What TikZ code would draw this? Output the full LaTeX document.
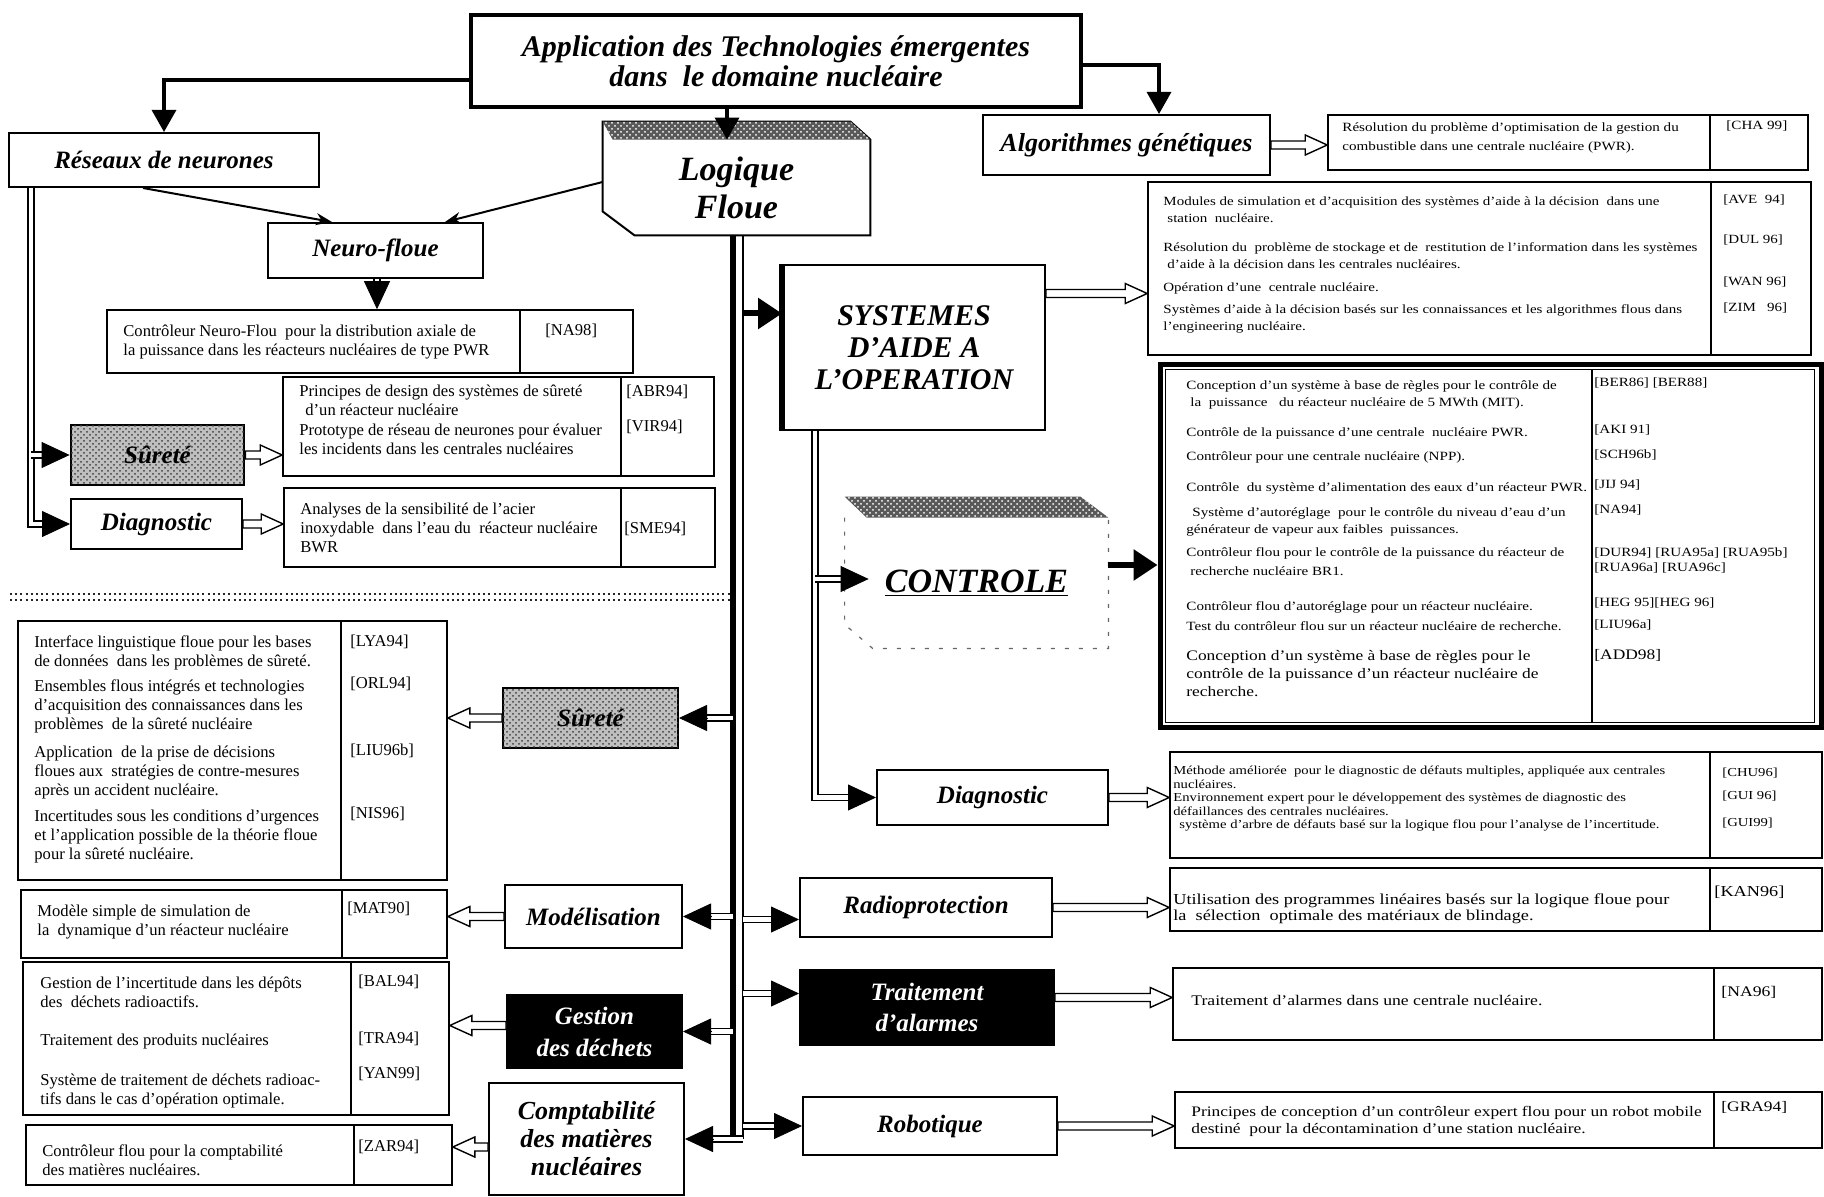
\documentclass[tikz,border=0pt]{standalone}
\usepackage{fontspec}
\setmainfont{Liberation Serif}
\newfontfamily\widefont[FakeStretch=1.2,Ligatures=TeX]{Liberation Serif}
\usetikzlibrary{arrows.meta,calc,patterns}
\tikzset{
  lab/.style={font=\fontsize{12.5}{15}\selectfont\bfseries\itshape, align=center},
  bx/.style={draw, line width=1pt, inner sep=0pt, fill=white},
  tb/.style={draw, line width=0.8pt, inner sep=0pt},
  tl/.style={anchor=north west, inner sep=0pt, align=left, font=\fontsize{8.3}{9.5}\selectfont},
  wf/.style 2 args={anchor=north west, inner sep=0pt, align=left, font=\widefont\fontsize{#1}{#2}\selectfont},
  speckle/.style={fill=gray!50, postaction={pattern=crosshatch dots, pattern color=black!75}},
  blk/.style={fill=black, text=white},
  bigar/.style={line width=1.6pt, -{Triangle[length=11pt,width=12pt]}},
  thinar/.style={line width=1pt, -{Stealth[length=8pt,width=6pt]}},
  dbl/.style={double, double distance=2.4pt, line width=0.6pt},
  tipst/.style={line width=0.4pt, -{Triangle[length=14pt,width=13pt]}},
  heavy/.style={line width=3pt, -{Triangle[length=12pt,width=15pt]}},
}
\newcommand\bx[7]{\node[#6, minimum width={(#4-#2)*0.5pt}, minimum height={(#5-#3)*0.5pt}] (#1) at ({(#2+#4)/2},{(#3+#5)/2}) {#7};}
\newcommand\tip[2]{\draw[tipst] ($(#2)!14pt!(#1)$) -- (#2);}
\newcommand\vdiv[2]{\draw[line width=0.8pt] (#1.north -| #2,0) -- (#1.south -| #2,0);}
\newcommand\hol[2]{%
\draw[line width=0.7pt, fill=white, line join=miter]
 let \p1=(#1), \p2=(#2), \n1={ifthenelse(\x2>\x1,1,-1)} in
 (\x1,\y1+2pt) -- ({\x2-\n1*11pt},\y1+2pt) -- ({\x2-\n1*11pt},\y1+5pt) -- (\x2,\y1)
 -- ({\x2-\n1*11pt},\y1-5pt) -- ({\x2-\n1*11pt},\y1-2pt) -- (\x1,\y1-2pt) -- cycle;}
\begin{document}
\begin{tikzpicture}[x=0.5pt,y=-0.5pt]
\useasboundingbox (0,0) rectangle (1824,1197);
% ---------- boxes
\bx{app}{471}{15}{1081}{107}{bx,lab,line width=1.6pt,font=\fontsize{15}{15}\selectfont\bfseries\itshape}{Application des Technologies émergentes\\dans~ le domaine nucléaire}
\bx{rn}{9}{133}{319}{187}{bx,lab}{Réseaux de neurones}
\bx{lf}{603}{140}{870}{235}{lab,inner sep=0pt,font=\fontsize{17}{19}\selectfont\bfseries\itshape}{Logique\\Floue}
\bx{nf}{268}{223}{483}{278}{bx,lab}{Neuro-floue}
\bx{ag}{983}{115}{1270}{175}{bx,lab,font=\fontsize{13}{15}\selectfont\bfseries\itshape}{Algorithmes génétiques}
\bx{cha}{1328}{115}{1808}{170}{tb}{}
\bx{sys}{783}{265}{1045}{430}{bx,lab,font=\fontsize{15}{16}\selectfont\bfseries\itshape}{SYSTEMES\\D'AIDE A\\L'OPERATION}
\bx{systbl}{1148}{182}{1811}{355}{tb}{}
\bx{na98}{107}{310}{633}{373}{tb}{}
\bx{sur1}{71}{425}{244}{485}{bx,lab,speckle,line width=1.4pt}{Sûreté}
\bx{sur1t}{283}{377}{714}{476}{tb}{}
\bx{dia1}{71}{499}{242}{549}{bx,lab}{Diagnostic}
\bx{dia1t}{284}{488}{715}{567}{tb}{}
\bx{ctl}{845}{518}{1108}{648}{lab,inner sep=0pt,font=\fontsize{17}{19}\selectfont\bfseries\itshape}{\underline{CONTROLE}}
\bx{ctlt}{1160}{365}{1821}{727}{tb,line width=2.5pt}{}
\bx{dia2}{877}{770}{1108}{825}{bx,lab}{Diagnostic}
\bx{dia2t}{1170}{752}{1822}{858}{tb}{}
\bx{sur2}{503}{688}{678}{748}{bx,lab,speckle}{Sûreté}
\bx{sur2t}{18}{621}{447}{880}{tb}{}
\bx{mod}{505}{885}{682}{948}{bx,lab}{Modélisation}
\bx{modt}{21}{890}{447}{958}{tb}{}
\bx{rad}{800}{878}{1052}{937}{bx,lab}{Radioprotection}
\bx{radt}{1170}{868}{1822}{931}{tb}{}
\bx{ges}{507}{995}{682}{1068}{bx,lab,blk,font=\fontsize{12.5}{16}\selectfont\bfseries\itshape}{Gestion\\des déchets}
\bx{gest}{23}{962}{449}{1115}{tb}{}
\bx{tra}{800}{970}{1054}{1045}{bx,lab,blk,font=\fontsize{12.5}{15.5}\selectfont\bfseries\itshape}{Traitement\\d'alarmes}
\bx{trat}{1173}{968}{1822}{1040}{tb}{}
\bx{cpt}{489}{1083}{684}{1195}{bx,lab,font=\fontsize{13}{14}\selectfont\bfseries\itshape}{Comptabilité\\des matières\\nucléaires}
\bx{cptt}{26}{1125}{452}{1185}{tb}{}
\bx{rob}{803}{1097}{1057}{1155}{bx,lab}{Robotique}
\bx{robt}{1175}{1092}{1822}{1148}{tb}{}
% ---------- special outlines
\draw[line width=1pt] ([yshift=9pt]lf.north west) -- ([xshift=-10pt,yshift=9pt]lf.north east) -- (lf.north east) -- (lf.south east) -- ([xshift=16pt]lf.south west) -- ([yshift=12pt]lf.south west) -- cycle;
\fill[black!65, postaction={pattern=crosshatch dots, pattern color=white}] ([yshift=9pt]lf.north west) -- ([xshift=-10pt,yshift=9pt]lf.north east) -- (lf.north east) -- ([xshift=5pt]lf.north west) -- cycle;
\fill[black!65, postaction={pattern=crosshatch dots, pattern color=white}] ([yshift=10.5pt]ctl.north west) -- ([xshift=-14pt,yshift=10.5pt]ctl.north east) -- (ctl.north east) -- ([xshift=11pt]ctl.north west) -- cycle;
\draw[black!60, line width=0.6pt, dash pattern=on 2pt off 5pt] (ctl.north west) -- ([yshift=12pt]ctl.south west) -- ([xshift=14pt]ctl.south west) -- (ctl.south east) -- (ctl.north east);
\draw[line width=3pt] (sys.north west) -- (sys.south west);
\draw[line width=0.6pt] ($(ctlt.north west)+(8,7)$) rectangle ($(ctlt.south east)+(-9,-7)$);
% ---------- dividers
\vdiv{cha}{1710} \vdiv{systbl}{1711} \vdiv{na98}{520} \vdiv{sur1t}{621} \vdiv{dia1t}{621}
\vdiv{dia2t}{1710} \vdiv{sur2t}{341} \vdiv{modt}{342} \vdiv{radt}{1710} \vdiv{gest}{351}
\vdiv{trat}{1714} \vdiv{cptt}{354} \vdiv{robt}{1714}
\draw[line width=0.8pt] ($(ctlt.north -| 1592,0)+(0,7)$) -- ($(ctlt.south -| 1592,0)+(0,-7)$);
% ---------- separator
\coordinate (sepA) at (10,594); \coordinate (sepB) at (730,594);
\coordinate (sepC) at (10,600); \coordinate (sepD) at (730,600);
\draw[line width=1.3pt, dash pattern=on 1pt off 1.6pt, black!85] (sepA) -- (sepB);
\draw[line width=1.3pt, dash pattern=on 1pt off 1.6pt, black!85] (sepC) -- (sepD);
% ---------- table texts, left
\node[tl] (na98a) at (123,325) {Contrôleur Neuro-Flou~ pour la distribution axiale de\\la puissance dans les réacteurs nucléaires de type PWR};
\node[tl] (na98r) at (545,324) {[NA98]};
\node[tl] (s1a) at (299,385) {Principes de design des systèmes de sûreté\\\hspace{3pt}d'un réacteur nucléaire};
\node[tl] (s1b) at (299,424) {Prototype de réseau de neurones pour évaluer\\les incidents dans les centrales nucléaires};
\node[tl] (s1ra) at (626,385) {[ABR94]};
\node[tl] (s1rb) at (626,420) {[VIR94]};
\node[tl] (d1a) at (300,503) {Analyses de la sensibilité de l'acier\\inoxydable~ dans l'eau du~ réacteur nucléaire\\BWR};
\node[tl] (d1r) at (624,522) {[SME94]};
\node[tl] (s2a) at (34,635) {Interface linguistique floue pour les bases\\de données~ dans les problèmes de sûreté.};
\node[tl] (s2b) at (34,679) {Ensembles flous intégrés et technologies\\d'acquisition des connaissances dans les\\problèmes~ de la sûreté nucléaire};
\node[tl] (s2c) at (34,746) {Application~ de la prise de décisions\\floues aux~ stratégies de contre-mesures\\après un accident nucléaire.};
\node[tl] (s2d) at (34,810) {Incertitudes sous les conditions d'urgences\\et l'application possible de la théorie floue\\pour la sûreté nucléaire.};
\node[tl] (s2ra) at (350,635) {[LYA94]};
\node[tl] (s2rb) at (350,677) {[ORL94]};
\node[tl] (s2rc) at (350,744) {[LIU96b]};
\node[tl] (s2rd) at (350,807) {[NIS96]};
\node[tl] (ma) at (37,905) {Modèle simple de simulation de\\la~ dynamique d'un réacteur nucléaire};
\node[tl] (mr) at (347,902) {[MAT90]};
\node[tl] (ga) at (40,977) {Gestion de l'incertitude dans les dépôts\\des~ déchets radioactifs.};
\node[tl] (gb) at (40,1034) {Traitement des produits nucléaires};
\node[tl] (gc) at (40,1074) {Système de traitement de déchets radioac-\\tifs dans le cas d'opération optimale.};
\node[tl] (gra) at (358,975) {[BAL94]};
\node[tl] (grb) at (358,1032) {[TRA94]};
\node[tl] (grc) at (358,1067) {[YAN99]};
\node[tl] (ca) at (42,1144) {Contrôleur flou pour la comptabilité\\des matières nucléaires.};
\node[tl] (cr) at (358,1140) {[ZAR94]};
% ---------- table texts, right
\node[wf={6.3}{9.5}] (chaa) at (1342,122) {Résolution du problème d'optimisation de la gestion du\\combustible dans une centrale nucléaire (PWR).};
\node[wf={6.3}{9.5}] (char) at (1726,120) {[CHA 99]};
\node[wf={6.25}{8.5}] (sta) at (1163,196) {Modules de simulation et d'acquisition des systèmes d'aide à la décision~ dans une\\\hspace{2pt}station~ nucléaire.};
\node[wf={6.25}{8.5}] (stb) at (1163,242) {Résolution du~ problème de stockage et de~ restitution de l'information dans les systèmes\\\hspace{2pt}d'aide à la décision dans les centrales nucléaires.};
\node[wf={6.25}{8.5}] (stc) at (1163,282) {Opération d'une~ centrale nucléaire.};
\node[wf={6.25}{8.5}] (std) at (1163,304) {Systèmes d'aide à la décision basés sur les connaissances et les algorithmes flous dans\\l'engineering nucléaire.};
\node[wf={6.25}{8.5}] (stra) at (1723,194) {[AVE~ 94]};
\node[wf={6.25}{8.5}] (strb) at (1723,234) {[DUL 96]};
\node[wf={6.25}{8.5}] (strc) at (1723,276) {[WAN 96]};
\node[wf={6.25}{8.5}] (strd) at (1723,302) {[ZIM~~ 96]};
\node[wf={6.3}{8.5}] (cta) at (1186,380) {Conception d'un système à base de règles pour le contrôle de\\\hspace{2pt}la~ puissance~~ du réacteur nucléaire de 5 MWth (MIT).};
\node[wf={6.3}{8.5}] (ctb) at (1186,427) {Contrôle de la puissance d'une centrale~ nucléaire PWR.};
\node[wf={6.3}{8.5}] (ctc) at (1186,451) {Contrôleur pour une centrale nucléaire (NPP).};
\node[wf={6.3}{8.5}] (ctd) at (1186,482) {Contrôle~ du système d'alimentation des eaux d'un réacteur PWR.};
\node[wf={6.3}{8.5}] (cte) at (1186,507) {\hspace{3pt}Système d'autoréglage~ pour le contrôle du niveau d'eau d'un\\générateur de vapeur aux faibles~ puissances.};
\node[wf={6.3}{9.5}] (ctf) at (1186,547) {Contrôleur flou pour le contrôle de la puissance du réacteur de\\\hspace{2pt}recherche nucléaire BR1.};
\node[wf={6.3}{8.5}] (ctg) at (1186,601) {Contrôleur flou d'autoréglage pour un réacteur nucléaire.};
\node[wf={6.3}{8.5}] (cth) at (1186,621) {Test du contrôleur flou sur un réacteur nucléaire de recherche.};
\node[wf={7.25}{9}] (cti) at (1186,650) {Conception d'un système à base de règles pour le\\contrôle de la puissance d'un réacteur nucléaire de\\recherche.};
\node[wf={6.3}{8.5}] (ctra) at (1594,377) {[BER86] [BER88]};
\node[wf={6.3}{8.5}] (ctrb) at (1594,424) {[AKI 91]};
\node[wf={6.3}{8.5}] (ctrc) at (1594,449) {[SCH96b]};
\node[wf={6.3}{8.5}] (ctrd) at (1594,479) {[JIJ 94]};
\node[wf={6.3}{8.5}] (ctre) at (1594,504) {[NA94]};
\node[wf={6.3}{7.5}] (ctrf) at (1594,547) {[DUR94] [RUA95a] [RUA95b]\\{}[RUA96a] [RUA96c]};
\node[wf={6.3}{8.5}] (ctrg) at (1594,597) {[HEG 95][HEG 96]};
\node[wf={6.3}{8.5}] (ctrh) at (1594,619) {[LIU96a]};
\node[wf={7.25}{9}] (ctri) at (1594,649) {[ADD98]};
\node[wf={6.1}{6.6}] (dga) at (1173,766) {Méthode améliorée~ pour le diagnostic de défauts multiples, appliquée aux centrales\\nucléaires.};
\node[wf={6.1}{6.6}] (dgb) at (1173,793) {Environnement expert pour le développement des systèmes de diagnostic des\\défaillances des centrales nucléaires.};
\node[wf={6.1}{6.6}] (dgc) at (1173,820) {\hspace{3pt}système d'arbre de défauts basé sur la logique flou pour l'analyse de l'incertitude.};
\node[wf={6.1}{6.6}] (dgra) at (1722,768) {[CHU96]};
\node[wf={6.1}{6.6}] (dgrb) at (1722,791) {[GUI 96]};
\node[wf={6.1}{6.6}] (dgrc) at (1722,818) {[GUI99]};
\node[wf={7.6}{8}] (rda) at (1173,893) {Utilisation des programmes linéaires basés sur la logique floue pour\\la~ sélection~ optimale des matériaux de blindage.};
\node[wf={7.6}{8}] (rdr) at (1714,886) {[KAN96]};
\node[wf={7.35}{9}] (tta) at (1191,995) {Traitement d'alarmes dans une centrale nucléaire.};
\node[wf={7.35}{9}] (ttr) at (1721,986) {[NA96]};
\node[wf={7.25}{8.5}] (rba) at (1191,1106) {Principes de conception d'un contrôleur expert flou pour un robot mobile\\destiné~ pour la décontamination d'une station nucléaire.};
\node[wf={7.25}{8.5}] (rbr) at (1721,1101) {[GRA94]};
% ---------- connectors: top level
\draw[bigar] (app.west |- 0,80) -| (rn.north);
\draw[bigar] (app.south -| 727,0) -- (lf.north -| 727,0);
\draw[bigar] (app.east |- 0,65) -| (ag.north -| 1159,0);
\draw[thinar] (rn.south -| 143,0) -- (nf.north -| 332,0);
\draw[thinar] (lf.west |- 0,182) -- (nf.north -| 445,0);
\draw[dbl, shorten >=14pt] (nf.south -| 377,0) -- (na98.north -| 377,0);
\tip{nf.south -| 377,0}{na98.north -| 377,0}
% left trunk
\draw[dbl, shorten >=14pt] (rn.south -| 31,0) |- (dia1.west);
\tip{dia1.west -| 31,0}{dia1.west}
\draw[dbl, shorten >=14pt] (sur1.west -| 31,0) -- (sur1.west);
\tip{sur1.west -| 31,0}{sur1.west}
% central trunk
\draw[line width=3pt] (lf.south -| 733,0) -- (cpt.east -| 733,0);
\draw[line width=0.9pt] (lf.south -| 743,0) -- (cpt.east -| 743,0);
\coordinate (sysin) at ([yshift=17pt]sys.west);
\draw[heavy] (sysin -| 743,0) -- (sysin);
\draw[dbl, shorten >=14pt] (sur2.east -| 733,0) -- (sur2.east); \tip{sur2.east -| 733,0}{sur2.east}
\draw[dbl, shorten >=14pt] (mod.east -| 733,0) -- (mod.east); \tip{mod.east -| 733,0}{mod.east}
\draw[dbl, shorten >=14pt] (ges.east -| 733,0) -- (ges.east); \tip{ges.east -| 733,0}{ges.east}
\draw[dbl, shorten >=14pt] (cpt.east -| 743,0) -- (cpt.east); \tip{cpt.east -| 743,0}{cpt.east}
\coordinate (radin) at ([yshift=-6pt]rad.west);
\draw[dbl, shorten >=14pt] (radin -| 743,0) -- (radin); \tip{radin -| 743,0}{radin}
\coordinate (train) at ([yshift=7pt]tra.west);
\draw[dbl, shorten >=14pt] (train -| 743,0) -- (train); \tip{train -| 743,0}{train}
\draw[dbl, shorten >=14pt] (rob.west -| 743,0) -- (rob.west); \tip{rob.west -| 743,0}{rob.west}
% systemes branch
\draw[dbl, shorten >=14pt] (sys.south -| 815,0) |- (dia2.west); \tip{dia2.west -| 815,0}{dia2.west}
\coordinate (ctlin) at ([xshift=12pt,yshift=2pt]ctl.west);
\draw[dbl, shorten >=14pt] (ctlin -| 815,0) -- (ctlin); \tip{ctlin -| 815,0}{ctlin}
\coordinate (ctlout) at ([yshift=9pt]ctl.east);
\draw[heavy] (ctlout) -- (ctlout -| ctlt.west);
% hollow arrows
\hol{ag.east}{ag.east -| cha.west}
\coordinate (sysout) at ([yshift=27pt]sys.east);
\hol{sysout}{sysout -| systbl.west}
\hol{sur1.east}{sur1.east -| sur1t.west}
\hol{dia1.east}{dia1.east -| dia1t.west}
\hol{sur2.west}{sur2.west -| sur2t.east}
\hol{mod.west}{mod.west -| modt.east}
\coordinate (gesout) at ([yshift=3pt]ges.west);
\hol{gesout}{gesout -| gest.east}
\coordinate (cptout) at ([yshift=-4pt]cpt.west);
\hol{cptout}{cptout -| cptt.east}
\hol{dia2.east}{dia2.east -| dia2t.west}
\hol{rad.east}{rad.east -| radt.west}
\coordinate (traout) at ([yshift=5pt]tra.east);
\hol{traout}{traout -| trat.west}
\hol{rob.east}{rob.east -| robt.west}
\end{tikzpicture}
\end{document}
